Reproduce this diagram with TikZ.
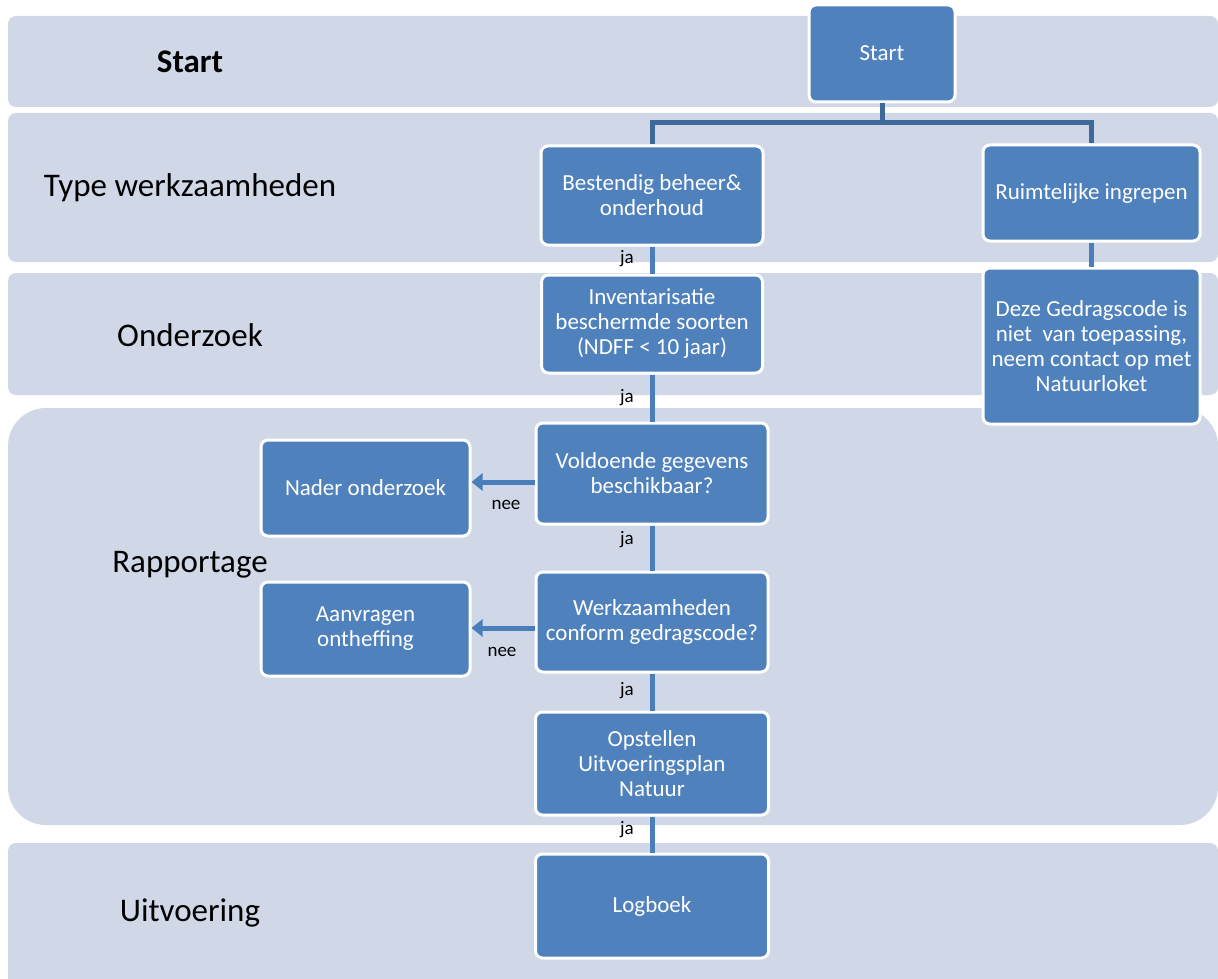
\documentclass[tikz,border=0pt]{standalone}
\usepackage{fontspec}
\setmainfont{Carlito}
\usetikzlibrary{arrows.meta}
\definecolor{lanebg}{HTML}{D0D8E8}
\definecolor{boxfill}{HTML}{4F81BD}
\definecolor{linkblue}{HTML}{4A7EBB}
\definecolor{forkblue}{HTML}{3D6A9B}

\begin{document}
\begin{tikzpicture}[x=1pt, y=-1pt,
        lane/.style={fill=lanebg, rounded corners=8pt},
        lanelabel/.style={font=\fontsize{33}{38}\selectfont, text=black},
        box/.style={rectangle, draw=white, line width=3pt, fill=boxfill, rounded corners=7pt,
            inner sep=0pt, text=white, align=center, font=\fontsize{23}{25}\selectfont},
        link/.style={draw=linkblue, line width=5pt},
        forklink/.style={draw=forkblue, line width=5pt},
        nolink/.style={link, -{Triangle[width=17pt,length=11pt]}},
        answer/.style={font=\fontsize{19}{20}\selectfont, text=black}]
    \useasboundingbox (0,0) rectangle (1218,979);
    % Lanes
    \fill[lane] (8,16) rectangle (1218,107);
    \fill[lane] (8,113) rectangle (1218,262);
    \fill[lane] (8,273) rectangle (1218,395);
    \fill[lane, rounded corners=38pt] (8,408) rectangle (1218,825);
    \fill[lane] (8,843) rectangle (1218,1000);
    \node[lanelabel] (lstart) at (190,62) {\textbf{Start}};
    \node[lanelabel] (ltype) at (190,188) {Type werkzaamheden};
    \node[lanelabel] (londerzoek) at (190,335) {Onderzoek};
    \node[lanelabel] (lrapportage) at (190,565) {Rapportage};
    \node[lanelabel] (luitvoering) at (190,913) {Uitvoering};
    % Steps
    \node[box, minimum width=146, minimum height=97] (start) at (882,53.5) {Start};
    \node[box, minimum width=222, minimum height=99] (bestendig) at (652,195.5) {Bestendig beheer\&\\onderhoud};
    \node[box, minimum width=217, minimum height=96] (ruimte) at (1091.5,193) {Ruimtelijke ingrepen};
    \node[box, minimum width=221, minimum height=98] (inventarisatie) at (652,324) {Inventarisatie\\beschermde soorten\\(NDFF < 10 jaar)};
    \node[box, minimum width=217, minimum height=156] (deze) at (1091.5,346) {Deze Gedragscode is\\niet\ \ van toepassing,\\neem contact op met\\Natuurloket};
    \node[box, minimum width=232, minimum height=101] (voldoende) at (652,473.5) {Voldoende gegevens\\beschikbaar?};
    \node[box, minimum width=209, minimum height=96] (nader) at (365.5,488) {Nader onderzoek};
    \node[box, minimum width=232, minimum height=100] (werkzaamheden) at (652,622) {Werkzaamheden\\conform gedragscode?};
    \node[box, minimum width=209, minimum height=94] (aanvragen) at (365.5,629) {Aanvragen\\ontheffing};
    \node[box, minimum width=233, minimum height=103] (opstellen) at (652,763.5) {Opstellen\\Uitvoeringsplan\\Natuur};
    \node[box, minimum width=233, minimum height=104] (logboek) at (652,906) {Logboek};
    % Connections
    \coordinate (fork) at (882,123);
    \draw[forklink] (start) -- (fork);
    \draw[forklink] (fork) -| (bestendig);
    \draw[forklink] (fork) -| (ruimte);
    \draw[link] (ruimte) -- (deze);
    \draw[link] (bestendig) -- (inventarisatie);
    \draw[link] (inventarisatie) -- (voldoende);
    \draw[link] (voldoende) -- (werkzaamheden);
    \draw[link] (werkzaamheden) -- (opstellen);
    \draw[link] (opstellen) -- (logboek);
    \draw[nolink] ([yshift=-8.5pt]voldoende.west) -- ([yshift=6pt]nader.east);
    \draw[nolink] ([yshift=-6pt]werkzaamheden.west) -- ([yshift=1pt]aanvragen.east);
    \node[answer] (ja1) at (627,259) {ja};
    \node[answer] (ja2) at (627,398) {ja};
    \node[answer] (ja3) at (627,540) {ja};
    \node[answer] (ja4) at (627,691) {ja};
    \node[answer] (ja5) at (627,830) {ja};
    \node[answer] (nee1) at (506,505) {nee};
    \node[answer] (nee2) at (502,652) {nee};
\end{tikzpicture}
\end{document}
